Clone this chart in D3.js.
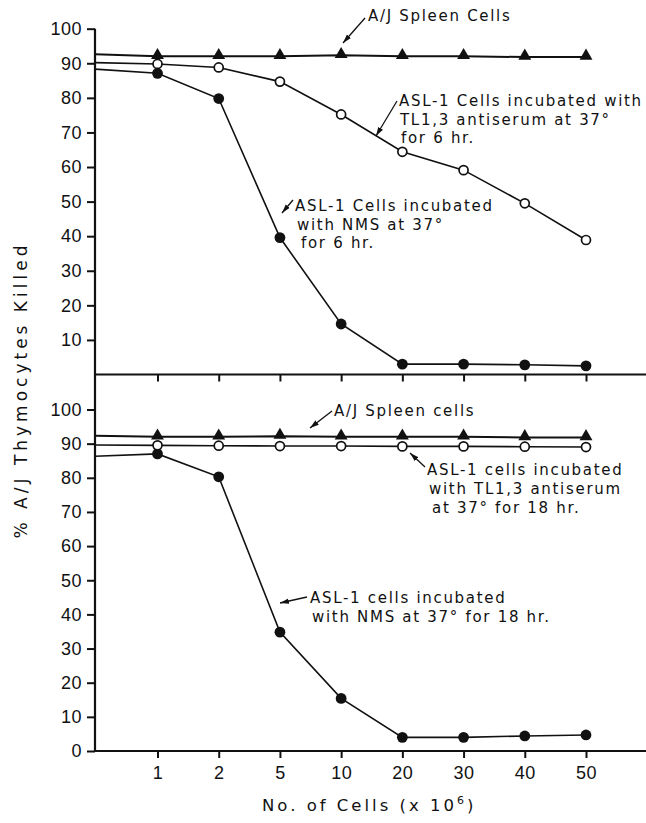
<!DOCTYPE html>
<html>
<head>
<meta charset="utf-8">
<script src="https://cdn.jsdelivr.net/npm/d3@7"></script>
<style>
  body { margin: 0; background: #fff; }
  svg { display: block; font-family: "DejaVu Sans", sans-serif; }
</style>
</head>
<body>
<svg></svg>
<script>
// x categories (no. of cells x 10^6)
const cellCounts = ["1", "2", "5", "10", "20", "30", "40", "50"];
const yTicksTop = [10, 20, 30, 40, 50, 60, 70, 80, 90, 100];
const yTicksBottom = [0, 10, 20, 30, 40, 50, 60, 70, 80, 90, 100];

// upper panel: 6 hr incubation
const spleen6 = [92, 92, 92, 92.3, 92, 92, 91.8, 91.8];
const tl6 = [89.8, 88.8, 84.7, 75.2, 64.4, 59.1, 49.5, 38.9];
const nms6 = [87.1, 79.8, 39.6, 14.6, 3.0, 3.0, 2.8, 2.5];
// value where each line leaves the y axis
const start6 = [92.6, 90.2, 88.3];

// lower panel: 18 hr incubation
const spleen18 = [92, 92, 92.2, 92, 92, 92, 91.8, 91.8];
const tl18 = [89.5, 89.4, 89.3, 89.3, 89.2, 89.2, 89.1, 89.0];
const nms18 = [87.0, 80.3, 34.8, 15.4, 4.0, 4.0, 4.4, 4.7];
const start18 = [92.3, 89.6, 86.3];

var W = 646, H = 823,
    axisX = 95, rightX = 646;

var svg = d3.select("svg").attr("width", W).attr("height", H);

var x = d3.scalePoint()
  .domain(cellCounts)
  .range([157.5, 586]);

var yTop = d3.scaleLinear().domain([0, 100]).range([374.5, 28.7]);
var yBot = d3.scaleLinear().domain([0, 100]).range([751, 409.5]);

svg.append("defs").append("marker")
    .attr("id", "arr")
    .attr("viewBox", "0 0 10 6")
    .attr("refX", 10).attr("refY", 3)
    .attr("markerWidth", 9).attr("markerHeight", 6)
    .attr("markerUnits", "userSpaceOnUse")
    .attr("orient", "auto")
  .append("path")
    .attr("d", "M0,0L10,3L0,6Z")
    .attr("fill", "#111");

// axes
function yAxis(scale, ticks) {
  var g = svg.append("g")
    .attr("transform", "translate(" + axisX + ",0)")
    .call(d3.axisLeft(scale).tickValues(ticks).tickSize(8).tickPadding(5));
  g.select(".domain").remove();
  g.selectAll("line").attr("stroke", "#111").attr("stroke-width", 2);
  g.selectAll("text")
    .attr("fill", "#111")
    .style("font-size", "18px")
    .style("letter-spacing", "0.5px");
}
function xAxis(scale, yPos, labels) {
  var g = svg.append("g")
    .attr("transform", "translate(0," + yPos + ")")
    .call(d3.axisBottom(x).tickSize(7).tickPadding(8)
      .tickFormat(labels ? null : ""));
  g.select(".domain").remove();
  g.selectAll("line").attr("stroke", "#111").attr("stroke-width", 2);
  g.selectAll("text")
    .attr("fill", "#111")
    .style("font-size", "18px")
    .style("letter-spacing", "0.5px");
  svg.append("line")
    .attr("x1", axisX).attr("x2", rightX)
    .attr("y1", yPos).attr("y2", yPos)
    .attr("stroke", "#111").attr("stroke-width", 2.2);
}

yAxis(yTop, yTicksTop);
yAxis(yBot, yTicksBottom);
xAxis(x, yTop(0), false);
xAxis(x, yBot(0), true);

svg.append("line")
  .attr("x1", axisX).attr("x2", axisX)
  .attr("y1", yTop(100)).attr("y2", yBot(0))
  .attr("stroke", "#111").attr("stroke-width", 2.2);

// series
function series(y, vals, start, kind) {
  var pts = [{px: axisX, v: start}].concat(vals.map((v, i) => ({px: x(cellCounts[i]), v: v})));
  var line = d3.line().x(d => d.px).y(d => y(d.v));
  svg.append("path")
    .datum(pts)
    .attr("d", line)
    .attr("fill", "none")
    .attr("stroke", "#111")
    .attr("stroke-width", kind == "tri" ? 2 : 1.6);

  var g = svg.append("g");
  var data = vals.map((v, i) => ({c: cellCounts[i], v: v}));
  if (kind == "tri") {
    g.selectAll("path").data(data).enter().append("path")
      .attr("d", d3.symbol().type(d3.symbolTriangle).size(72))
      .attr("transform", d => "translate(" + x(d.c) + "," + (y(d.v) - 1) + ")")
      .attr("fill", "#111");
  } else if (kind == "open") {
    g.selectAll("circle").data(data).enter().append("circle")
      .attr("cx", d => x(d.c)).attr("cy", d => y(d.v))
      .attr("r", 4.5)
      .attr("fill", "#fff").attr("stroke", "#111").attr("stroke-width", 1.7);
  } else {
    g.selectAll("circle").data(data).enter().append("circle")
      .attr("cx", d => x(d.c)).attr("cy", d => y(d.v))
      .attr("r", 5.4)
      .attr("fill", "#111");
  }
}

series(yTop, spleen6, start6[0], "tri");
series(yTop, tl6, start6[1], "open");
series(yTop, nms6, start6[2], "filled");

series(yBot, nms18, start18[2], "filled");
series(yBot, spleen18, start18[0], "tri");
series(yBot, tl18, start18[1], "open");

// annotations
function note(lines, x0, y0, lh, arrow) {
  var t = svg.append("text")
    .attr("fill", "#111")
    .style("font-size", "15px")
    .style("letter-spacing", "1.7px");
  lines.forEach((l, i) => {
    t.append("tspan")
      .attr("x", x0 + (l.dx || 0))
      .attr("y", y0 + i * lh)
      .text(l.t);
  });
  svg.append("line")
    .attr("x1", arrow[0]).attr("y1", arrow[1])
    .attr("x2", arrow[2]).attr("y2", arrow[3])
    .attr("stroke", "#111").attr("stroke-width", 1.3)
    .attr("marker-end", "url(#arr)");
}

note([{t: "A/J Spleen Cells"}], 368, 20.5, 0, [365, 18, 343, 43]);
note([{t: "ASL-1 Cells incubated with"},
      {t: "TL1,3 antiserum at 37°", dx: 1},
      {t: "for 6 hr.", dx: 2}], 399, 106, 18.7, [397, 101, 376, 136]);
note([{t: "ASL-1 Cells incubated"},
      {t: "with NMS at 37°", dx: 2},
      {t: "for 6 hr.", dx: 6}], 295, 211, 18.7, [293, 200, 282, 213]);

note([{t: "A/J Spleen cells"}], 334, 416, 0, [332, 411, 310, 428]);
note([{t: "ASL-1 cells incubated"},
      {t: "with TL1,3 antiserum", dx: 2},
      {t: "at 37° for 18 hr.", dx: 5}], 427, 475, 18.8, [425, 467, 410, 453]);
note([{t: "ASL-1 cells incubated"},
      {t: "with NMS at 37° for 18 hr.", dx: 2}], 310, 603.3, 18.4, [307, 597, 280, 603]);

// axis titles
svg.append("text")
  .attr("transform", "translate(27,390) rotate(-90)")
  .attr("text-anchor", "middle")
  .attr("fill", "#111")
  .style("font-size", "17px")
  .style("letter-spacing", "4px")
  .text("% A/J Thymocytes Killed");

var xt = svg.append("text")
  .attr("x", 262).attr("y", 811)
  .attr("fill", "#111")
  .style("font-size", "16.5px")
  .style("letter-spacing", "3px");
xt.append("tspan").text("No. of Cells (x 10");
xt.append("tspan").attr("dy", -7).style("font-size", "11px").text("6");
xt.append("tspan").attr("dy", 7).text(")");
</script>
</body>
</html>
